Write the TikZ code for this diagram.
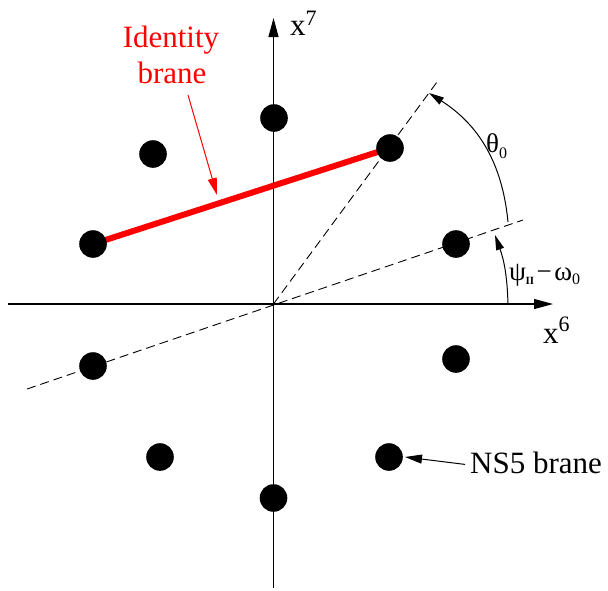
\documentclass[tikz,border=0pt]{standalone}
\usepackage{fontspec}
\setmainfont{Liberation Serif}
\usetikzlibrary{arrows.meta}
\pgfdeclarelayer{bg}
\pgfsetlayers{bg,main}
\begin{document}
\begin{tikzpicture}[x=1pt,y=-1pt,
  dot/.style={circle,fill=black,inner sep=0pt,minimum size=27.6pt},
  axis/.style={line width=1.1pt,-{Triangle[length=19pt,width=10pt]}},
  guide/.style={line width=0.9pt,dash pattern=on 9pt off 5pt},
  anglearrow/.style={line width=1pt,-{Triangle[length=15pt,width=8pt]}},
  pointer/.style={line width=1pt,-{Triangle[length=17pt,width=9pt]}},
  lbl/.style={inner sep=0pt,anchor=base west,font=\fontsize{31}{36}\selectfont},
  glbl/.style={inner sep=0pt,anchor=base west,font=\fontsize{27}{30}\selectfont},
]
\useasboundingbox (0,0) rectangle (608,590);
% dots (NS5 branes)
\node[dot] (d1) at (274,118) {};
\node[dot] (d2) at (153,154) {};
\node[dot] (d3) at (390,148) {};
\node[dot] (d4) at (93,244) {};
\node[dot] (d5) at (456,244) {};
\node[dot] (d6) at (93,366) {};
\node[dot] (d7) at (456,359) {};
\node[dot] (d8) at (160,457) {};
\node[dot] (d9) at (389,457) {};
\node[dot] (d10) at (273.5,498) {};
% coordinates
\coordinate (O) at (273.5,304);
\coordinate (xl) at (8,304);
\coordinate (xr) at (553,304);
\coordinate (yb) at (273.5,588);
\coordinate (yt) at (273.5,18);
\coordinate (g1a) at (27,389);
\coordinate (g1b) at (523,220);
\coordinate (g2b) at (437,82);
\coordinate (tA) at (508,222);
\coordinate (tC) at (429,93);
\coordinate (pA) at (508,304);
\coordinate (pC) at (495,235);
\coordinate (ra) at (188,95);
\coordinate (ratip) at (217,195);
\begin{pgfonlayer}{bg}
\draw[axis] (xl) -- (xr);
\draw[axis] (yb) -- (yt);
\draw[guide] (g1a) -- (g1b);
\draw[guide] (O) -- (g2b);
\draw[anglearrow] (tA) to[bend right=26] (tC);
\draw[anglearrow] (pA) to[bend right=9] (pC);
\draw[red,line width=6pt] (d4.center) -- (d3.center);
\end{pgfonlayer}
% labels
\node[lbl] (x7) at (290,35) {x\raisebox{10pt}{\fontsize{22}{22}\selectfont 7}};
\node[lbl] (x6) at (543,343) {x\raisebox{12pt}{\fontsize{22}{22}\selectfont 6}};
\node[lbl,anchor=base,text=red] (id1) at (171,47) {Identity};
\node[lbl,anchor=base,text=red] (id2) at (172,83) {brane};
\draw[pointer,red] (ra) -- (ratip);
\node[lbl] (ns) at (470,473) {NS5 brane};
\draw[pointer] ([xshift=-5pt,yshift=-2pt]ns.west) -- ([xshift=2pt]d9.east);
\node[glbl] (th) at (486,152) {θ\raisebox{-6pt}{\fontsize{16}{16}\selectfont 0}};
\node[glbl] (ps) at (509,280) {ψ\kern-0.5pt\raisebox{-4pt}{\fontsize{11}{11}\selectfont\bfseries II}\kern2.5pt−\kern2.5ptω\raisebox{-4pt}{\fontsize{16}{16}\selectfont 0}};
\end{tikzpicture}
\end{document}
